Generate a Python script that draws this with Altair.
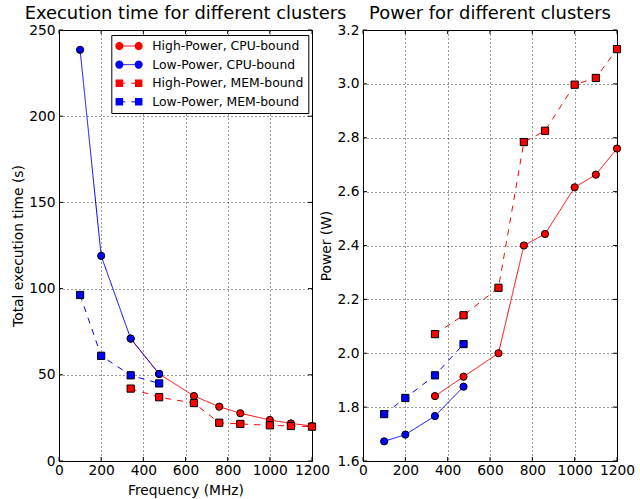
import altair as alt
import pandas as pd

# ---------------- data ----------------
series = ["High-Power, CPU-bound", "Low-Power, CPU-bound",
          "High-Power, MEM-bound", "Low-Power, MEM-bound"]
colors = ["#ff0000", "#0000ff", "#ff0000", "#0000ff"]
shapes = ["circle", "circle", "square", "square"]
dashes = [[1, 0], [1, 0], [6, 6], [6, 6]]

freq_low = [100, 200, 340, 475]
freq_high = [340, 475, 640, 760, 860, 1000, 1100, 1200]

time_high_cpu = [71, 50.5, 37.7, 31.5, 27.7, 23.8, 21.8, 20.3]
time_low_cpu = [238.5, 119, 71, 50.5]
time_high_mem = [42, 37, 33.6, 22.2, 21.5, 20.7, 20.3, 19.9]
time_low_mem = [96.3, 61, 49.7, 45]

power_high_cpu = [1.841, 1.913, 2.0, 2.40, 2.443, 2.616, 2.663, 2.76]
power_low_cpu = [1.673, 1.698, 1.767, 1.876]
power_high_mem = [2.071, 2.141, 2.243, 2.784, 2.826, 2.997, 3.022, 3.129]
power_low_mem = [1.774, 1.834, 1.918, 2.034]

x_ticks = [0, 200, 400, 600, 800, 1000, 1200]
time_ticks = [0, 50, 100, 150, 200, 250]
power_ticks = [1.6, 1.8, 2.0, 2.2, 2.4, 2.6, 2.8, 3.0, 3.2]

rows = []
for s, fr, tm, pw in [
    (series[0], freq_high, time_high_cpu, power_high_cpu),
    (series[1], freq_low, time_low_cpu, power_low_cpu),
    (series[2], freq_high, time_high_mem, power_high_mem),
    (series[3], freq_low, time_low_mem, power_low_mem),
]:
    for f, t, p in zip(fr, tm, pw):
        rows.append({"series": s, "freq": f, "time": t, "power": p})
df = pd.DataFrame(rows)

# legend helper symbols (matplotlib style: marker - line - marker)
LS = 144  # legend symbol size -> unit = 6 px
dbl_circle = ("M-2.28,0A0.667,0.667,0,1,1,-0.947,0A0.667,0.667,0,1,1,-2.28,0Z "
              "M0.947,0A0.667,0.667,0,1,1,2.28,0A0.667,0.667,0,1,1,0.947,0Z")
dbl_square = ("M-2.238,-0.625H-0.988V0.625H-2.238Z "
              "M0.988,-0.625H2.238V0.625H0.988Z")
seg_path = "M-1.613,0H1.613"
legend_shapes = [dbl_circle, dbl_circle, dbl_square, dbl_square]
series_b = [s + " " for s in series]

FONT = "DejaVu Sans"
H = 431


def panel(yfield, ydomain, yticks, yfmt, ytitle, title, xtitle, W, with_legend):
    xs = alt.Scale(domain=[0, 1200], nice=False, zero=False)
    ys = alt.Scale(domain=ydomain, nice=False, zero=False)

    main_x = alt.Axis(orient="bottom", values=x_ticks, format="d", grid=True,
                      ticks=False, domain=False, labelPadding=2,
                      labelFlush=False, labelOverlap=False,
                      labelFontSize=13.8, titleFontSize=13.8,
                      titleFontWeight="normal", titlePadding=7, title=xtitle)
    main_y = alt.Axis(orient="left", values=yticks, format=yfmt, grid=True,
                      ticks=False, domain=False, labelPadding=4,
                      labelFlush=False, labelOverlap=False,
                      labelFontSize=13.8, titleFontSize=13.8,
                      titleFontWeight="normal", titlePadding=3.5, title=ytitle)

    leg_a = None
    leg_b = None
    if with_legend:
        common = dict(orient="none", legendX=52.3, legendY=5, title=None,
                      symbolSize=LS, labelFontSize=12.4, labelFont=FONT,
                      padding=4.5, rowPadding=5.6, labelOffset=16.8,
                      symbolOffset=6.7, symbolStrokeWidth=1, symbolOpacity=1,
                      labelExpr="datum.label + '  '")
        leg_a = alt.Legend(symbolType=seg_path, fillColor="white",
                           strokeColor="black", labelColor="black",
                           zindex=0, **common)
        leg_b = alt.Legend(labelOpacity=0, zindex=1,
                           symbolStrokeColor="black", **common)

    base = alt.Chart(df)
    X = alt.X("freq:Q", scale=xs, axis=main_x)
    Y = alt.Y(f"{yfield}:Q", scale=ys, axis=main_y)

    lines = base.mark_line(strokeWidth=1).encode(
        x=X, y=Y,
        color=alt.Color("series:N", scale=alt.Scale(domain=series, range=colors),
                        legend=leg_a),
        strokeDash=alt.StrokeDash("series:N",
                                  scale=alt.Scale(domain=series, range=dashes),
                                  legend=leg_a),
    )

    points = base.mark_point(filled=True, stroke="black", strokeWidth=1,
                             size=52, opacity=1).encode(
        x=X, y=Y,
        fill=alt.Fill("series:N", scale=alt.Scale(domain=series, range=colors),
                      legend=None),
        shape=alt.Shape("series:N", scale=alt.Scale(domain=series, range=shapes),
                        legend=None),
    )

    leg_layer = base.transform_calculate(
        series_b="datum.series + ' '"
    ).mark_point(filled=True, stroke="black", strokeWidth=1, opacity=0).encode(
        x=X, y=Y,
        fill=alt.Fill("series_b:N",
                      scale=alt.Scale(domain=series_b, range=colors),
                      legend=leg_b),
        shape=alt.Shape("series_b:N",
                        scale=alt.Scale(domain=series_b, range=legend_shapes),
                        legend=leg_b),
    )

    # inward tick marks on all four sides (matplotlib classic style)
    xt = alt.Chart(pd.DataFrame({"freq": x_ticks}))
    yt = alt.Chart(pd.DataFrame({yfield: yticks}))
    tick_kw = dict(color="black", strokeWidth=1)
    t_bottom = xt.mark_rule(**tick_kw).encode(
        x=X, y=alt.value(H), y2=alt.value(H - 4))
    t_top = xt.mark_rule(**tick_kw).encode(
        x=X, y=alt.value(0), y2=alt.value(4))
    t_left = yt.mark_rule(**tick_kw).encode(
        y=Y, x=alt.value(0), x2=alt.value(4))
    t_right = yt.mark_rule(**tick_kw).encode(
        y=Y, x=alt.value(W), x2=alt.value(W - 4))

    return alt.layer(
        lines, points, leg_layer, t_bottom, t_top, t_left, t_right
    ).resolve_scale(
        fill="independent", shape="independent"
    ).properties(
        width=W, height=H,
        title=alt.TitleParams(title, fontSize=17.9, font=FONT,
                              fontWeight="normal", anchor="middle",
                              frame="group", baseline="alphabetic", offset=-14,
                              color="black"),
    )


left = panel("time", [0, 250], time_ticks, "d", "Total execution time (s)",
             "Execution time for different clusters", "Frequency (MHz)", 253, True)
right = panel("power", [1.6, 3.2], power_ticks, ".1f", "Power (W)",
              "Power for different clusters", None, 254, False)

chart = alt.hconcat(left, right, spacing=51, bounds="flush").resolve_scale(
    color="independent", strokeDash="independent",
    fill="independent", shape="independent"
).resolve_legend(
    color="independent", strokeDash="independent",
    fill="independent", shape="independent"
).properties(
    padding={"left": 10, "top": 4, "right": 0, "bottom": 0},
    background="white",
).configure(font=FONT).configure_view(
    stroke="black", strokeWidth=1
).configure_axis(
    labelColor="black", titleColor="black", labelFont=FONT, titleFont=FONT,
    gridColor="black", gridDash=[1, 3], gridWidth=0.8, gridOpacity=1,
)

chart.save("out.html", embed_options={"renderer": "svg", "actions": False})
